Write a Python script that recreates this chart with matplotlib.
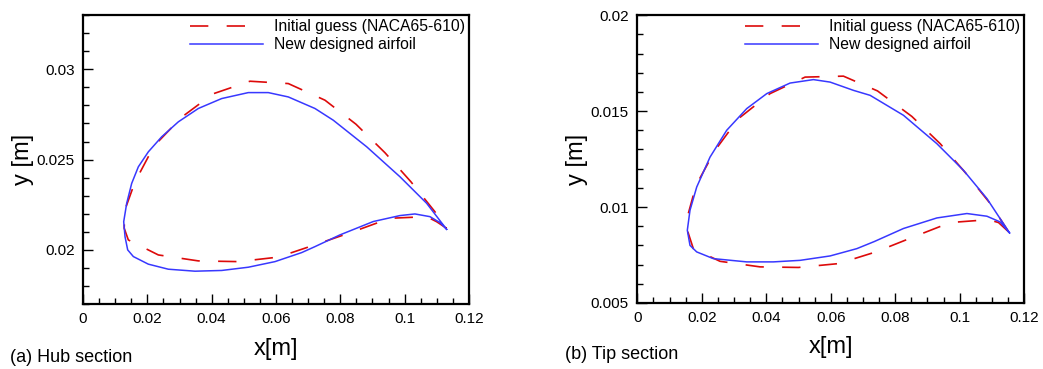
import matplotlib.pyplot as plt
from matplotlib.ticker import MultipleLocator

plt.rcParams['font.family'] = ['Liberation Sans', 'DejaVu Sans']

# hub section, initial guess (NACA65-610): TE -> lower surface -> LE -> upper surface -> TE
hub_init_x = [0.1130, 0.10996, 0.10685, 0.09544, 0.08403, 0.07212, 0.06073, 0.04829, 0.03585, 0.02342,
              0.01409, 0.0128, 0.0130, 0.01617, 0.02207, 0.03068, 0.04041, 0.05192, 0.06383, 0.07523,
              0.08487, 0.09389, 0.10197, 0.10943, 0.1130]
hub_init_y = [0.0212, 0.02156, 0.02184, 0.02175, 0.02101, 0.02028, 0.0196, 0.01935, 0.01939, 0.01972,
              0.02055, 0.0212, 0.0222, 0.02377, 0.02575, 0.02735, 0.02864, 0.02934, 0.02921, 0.02829,
              0.02696, 0.02538, 0.02377, 0.02211, 0.0212]

# hub section, new designed airfoil
hub_new_x = [0.11306, 0.11098, 0.10788, 0.10321, 0.09855, 0.09025, 0.0799, 0.07212, 0.06799, 0.05969,
             0.05139, 0.04311, 0.03482, 0.02652, 0.0203, 0.01565, 0.01389, 0.01306, 0.01265, 0.01358,
             0.01513, 0.0172, 0.02031, 0.02445, 0.02963, 0.03585, 0.04311, 0.05139, 0.05761, 0.06383,
             0.07212, 0.07782, 0.0882, 0.09855, 0.10685, 0.11306]
hub_new_y = [0.02114, 0.02151, 0.02184, 0.02199, 0.0219, 0.02157, 0.02083, 0.02018, 0.01985, 0.01935,
             0.01904, 0.01886, 0.01882, 0.01893, 0.01921, 0.01963, 0.0200, 0.02073, 0.02156, 0.02258,
             0.02368, 0.0246, 0.02543, 0.02626, 0.02709, 0.02783, 0.02838, 0.02871, 0.02871, 0.02847,
             0.02783, 0.02718, 0.02571, 0.02405, 0.02258, 0.02114]

# tip section, initial guess
tip_init_x = [0.1152, 0.11203, 0.10892, 0.09704, 0.08565, 0.0740, 0.06237, 0.04996, 0.03808, 0.02566,
              0.01738, 0.0157, 0.01583, 0.01822, 0.02411, 0.03134, 0.04118, 0.05204, 0.06393, 0.0745,
              0.08515, 0.09394, 0.1020, 0.10945, 0.1152]
tip_init_y = [0.0087, 0.00919, 0.00934, 0.00919, 0.00844, 0.00766, 0.00705, 0.00685, 0.00688, 0.00717,
              0.00783, 0.0087, 0.00966, 0.01113, 0.01295, 0.0146, 0.01591, 0.01677, 0.01682, 0.01605,
              0.01472, 0.0133, 0.01174, 0.01018, 0.0087]

# tip section, new designed airfoil
tip_new_x = [0.11544, 0.11255, 0.10843, 0.10222, 0.09291, 0.08255, 0.0735, 0.06808, 0.0598, 0.05049,
             0.0422, 0.03395, 0.02358, 0.01843, 0.01635, 0.01552, 0.01635, 0.01843, 0.02256, 0.02774,
             0.03395, 0.04016, 0.04739, 0.05462, 0.0598, 0.06703, 0.07221, 0.08255, 0.09291, 0.10117,
             0.10843, 0.11544]
tip_new_y = [0.00865, 0.00922, 0.00952, 0.00966, 0.00943, 0.00888, 0.0082, 0.00783, 0.00745, 0.00722,
             0.00714, 0.00714, 0.00731, 0.00766, 0.0080, 0.00879, 0.00983, 0.01104, 0.0126, 0.0140,
             0.01513, 0.01591, 0.01646, 0.01664, 0.01651, 0.01608, 0.01582, 0.01478, 0.0133, 0.01191,
             0.01044, 0.00865]

labels = ['Initial guess (NACA65-610)', 'New designed airfoil']
RED = '#dd0a0a'
BLUE = '#3838ff'

fig = plt.figure(figsize=(10.43, 3.69), dpi=100)
ax1 = fig.add_axes([0.0796, 0.176, 0.370, 0.783])
ax2 = fig.add_axes([0.611, 0.179, 0.371, 0.780])


def style_axes(ax, ylim, ymajor):
    ax.set_xlim(0, 0.12)
    ax.set_ylim(*ylim)
    ax.xaxis.set_major_locator(MultipleLocator(0.02))
    ax.xaxis.set_minor_locator(MultipleLocator(0.005))
    ax.yaxis.set_major_locator(MultipleLocator(ymajor))
    ax.yaxis.set_minor_locator(MultipleLocator(0.001))
    ax.xaxis.set_major_formatter(plt.FuncFormatter(lambda v, p: f'{v:g}'))
    ax.yaxis.set_major_formatter(plt.FuncFormatter(lambda v, p: f'{v:g}'))
    ax.tick_params(which='both', direction='in', top=False, right=False, labelsize=11,
                   width=1.0)
    ax.tick_params(which='major', length=7, pad=6)
    ax.tick_params(which='minor', length=4)
    for s in ax.spines.values():
        s.set_linewidth(1.6)
    ax.set_xlabel('x[m]', fontsize=17, labelpad=8)
    ax.set_ylabel('y [m]', fontsize=17, labelpad=2)
    ax.legend(loc='upper right', frameon=False, fontsize=11.3, handlelength=4.65,
              handletextpad=0.7, borderaxespad=0.15, borderpad=0.1, labelspacing=0.2)


ax1.plot(hub_init_x, hub_init_y, color=RED, lw=1.2, dashes=(11, 11), label=labels[0])
ax1.plot(hub_new_x, hub_new_y, color=BLUE, lw=1.1, label=labels[1])
style_axes(ax1, (0.017, 0.033), 0.005)

ax2.plot(tip_init_x, tip_init_y, color=RED, lw=1.2, dashes=(11, 11), label=labels[0])
ax2.plot(tip_new_x, tip_new_y, color=BLUE, lw=1.1, label=labels[1])
style_axes(ax2, (0.005, 0.02), 0.005)

fig.text(0.010, 0.032, '(a) Hub section', fontsize=13, va='center')
fig.text(0.542, 0.038, '(b) Tip section', fontsize=13, va='center')

fig.savefig('out.png', dpi=100)
